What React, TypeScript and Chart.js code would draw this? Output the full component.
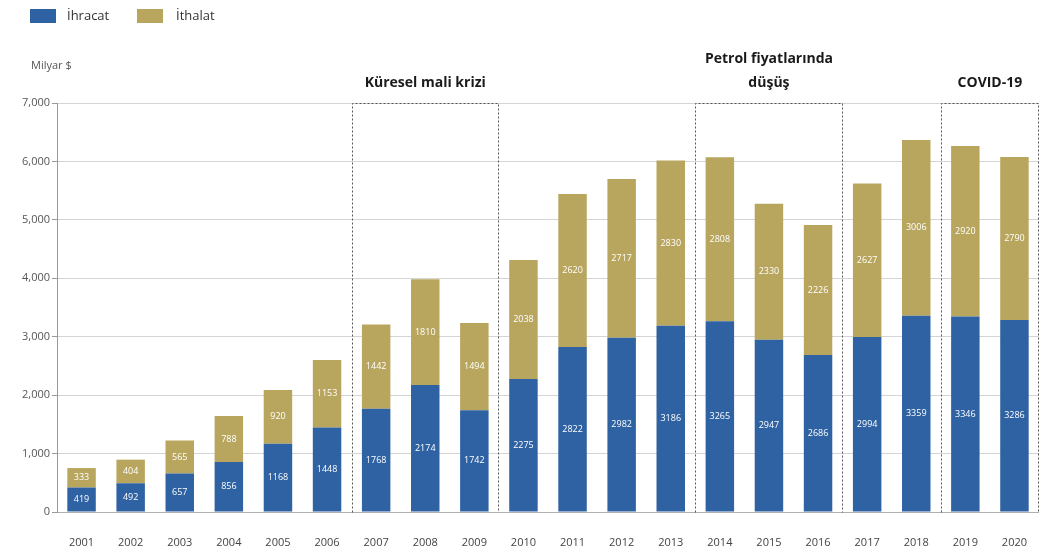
import React, { useEffect, useRef } from "react";
import { Chart, registerables } from "chart.js";

Chart.register(...registerables);

const years = ["2001","2002","2003","2004","2005","2006","2007","2008","2009","2010","2011","2012","2013","2014","2015","2016","2017","2018","2019","2020"];
const exportsData = [419, 492, 657, 856, 1168, 1448, 1768, 2174, 1742, 2275, 2822, 2982, 3186, 3265, 2947, 2686, 2994, 3359, 3346, 3286];
const importsData = [333, 404, 565, 788, 920, 1153, 1442, 1810, 1494, 2038, 2620, 2717, 2830, 2808, 2330, 2226, 2627, 3006, 2920, 2790];
const yTicks = [0, 1000, 2000, 3000, 4000, 5000, 6000, 7000];
const seriesNames = ["İhracat", "İthalat"];
const seriesColors = ["#2f62a3", "#b9a65e"];
const unitLabel = "Milyar $";
// boxes: [first category index, last category index, title lines]
const periodBoxes: [number, number, string[]][] = [
  [6, 8, ["Küresel mali krizi"]],
  [13, 15, ["Petrol fiyatlarında", "düşüş"]],
  [18, 19, ["COVID-19"]],
];

const FONT = "'Open Sans', 'Noto Sans', sans-serif";

const overlayPlugin = {
  id: "overlay",
  afterDatasetsDraw(chart: any) {
    const ctx = chart.ctx;
    ctx.save();
    ctx.fillStyle = "#ffffff";
    ctx.font = `9px ${FONT}`;
    ctx.textAlign = "center";
    ctx.textBaseline = "middle";
    chart.data.datasets.forEach((ds: any, di: number) => {
      const meta = chart.getDatasetMeta(di);
      meta.data.forEach((el: any, i: number) => {
        const v = ds.data[i];
        const cy = (el.y + el.base) / 2;
        ctx.fillText(String(v), el.x, cy);
      });
    });
    ctx.restore();
  },
  afterDraw(chart: any) {
    const ctx = chart.ctx;
    const xs = chart.scales.x;
    const ys = chart.scales.y;
    const area = chart.chartArea;
    const half = (xs.getPixelForValue(1) - xs.getPixelForValue(0)) / 2;
    ctx.save();
    ctx.strokeStyle = "#555555";
    ctx.lineWidth = 1;
    ctx.setLineDash([2, 2]);
    periodBoxes.forEach(([a, b]) => {
      const x0 = Math.round(xs.getPixelForValue(a) - half) + 0.5;
      const x1 = Math.min(Math.round(xs.getPixelForValue(b) + half) - 0.5, chart.width - 0.5);
      const top = Math.round(ys.getPixelForValue(7000)) + 0.5;
      const bot = Math.round(area.bottom) + 0.5;
      ctx.beginPath();
      ctx.moveTo(x0, bot);
      ctx.lineTo(x0, top);
      ctx.lineTo(x1, top);
      ctx.lineTo(x1, bot);
      ctx.stroke();
    });
    ctx.setLineDash([]);
    ctx.fillStyle = "#1a1a1a";
    ctx.font = `bold 14px ${FONT}`;
    ctx.textAlign = "center";
    ctx.textBaseline = "middle";
    periodBoxes.forEach(([a, b, lines]) => {
      const cx = (xs.getPixelForValue(a) + xs.getPixelForValue(b)) / 2;
      const n = lines.length;
      lines.forEach((t, k) => {
        const y = 83 - (n - 1 - k) * 24;
        ctx.fillText(t, cx, y);
      });
    });
    ctx.fillStyle = "#555555";
    ctx.font = `11px ${FONT}`;
    ctx.textAlign = "left";
    ctx.fillText(unitLabel, 31, 66);
    ctx.font = `13px ${FONT}`;
    ctx.fillStyle = seriesColors[0];
    ctx.fillRect(30, 9, 26, 14);
    ctx.fillStyle = seriesColors[1];
    ctx.fillRect(137, 9, 26, 14);
    ctx.fillStyle = "#333333";
    ctx.fillText(seriesNames[0], 67, 16);
    ctx.fillText(seriesNames[1], 176, 16);
    ctx.restore();
  },
};

export default function App() {
  const ref = useRef<HTMLCanvasElement>(null);
  useEffect(() => {
    if (!ref.current) return;
    const chart = new Chart(ref.current, {
      type: "bar",
      data: {
        labels: years,
        datasets: [
          { label: seriesNames[0], data: exportsData, backgroundColor: seriesColors[0], barPercentage: 0.58, categoryPercentage: 1 },
          { label: seriesNames[1], data: importsData, backgroundColor: seriesColors[1], barPercentage: 0.58, categoryPercentage: 1 },
        ],
      },
      options: {
        responsive: false,
        animation: false,
        layout: { padding: { left: 0, right: 0, top: 103, bottom: 0 } },
        plugins: { legend: { display: false }, tooltip: { enabled: false } },
        scales: {
          x: {
            stacked: true,
            grid: { display: false },
            border: { display: true, color: "#b0b0b0" },
            ticks: { color: "#444444", font: { family: FONT, size: 11 }, padding: 16, maxRotation: 0 },
            afterFit: (s: any) => { s.height = 44; s.paddingLeft = 0; s.paddingRight = 0; },
          },
          y: {
            stacked: true,
            min: 0,
            max: 7000,
            afterBuildTicks: (s: any) => { s.ticks = yTicks.map((v) => ({ value: v })); },
            grid: { color: "#d4d4d4", tickLength: 5, tickColor: "#999999" },
            border: { display: true, color: "#999999" },
            ticks: {
              color: "#555555",
              font: { family: FONT, size: 11 },
              padding: 2,
              callback: (v: any) => Number(v).toLocaleString("en-US"),
            },
            afterFit: (s: any) => { s.width = 57; },
          },
        },
      },
      plugins: [overlayPlugin],
    });
    return () => chart.destroy();
  }, []);
  return (
    <div style={{ position: "absolute", left: 0, top: 0, width: 1039, height: 556, background: "#fff" }}>
      <canvas ref={ref} width={1039} height={556} />
    </div>
  );
}
